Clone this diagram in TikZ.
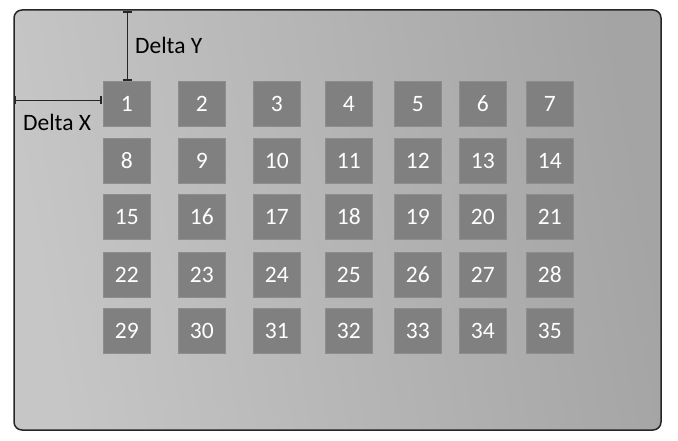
\documentclass[tikz,border=0pt]{standalone}
\usepackage{fontspec}
\setmainfont{Carlito}
\begin{document}
\begin{tikzpicture}[x=1pt,y=-1pt,
  cell/.style={fill=boxgray,draw=boxgray!90!white,line width=0.6pt,minimum width=47pt,minimum height=45pt,inner sep=0pt,
    text height=15pt,text depth=0pt,
    text=white,font=\fontsize{23.5}{25}\selectfont,anchor=north west},
  lbl/.style={font=\fontsize{23.5}{25}\selectfont,text=black,inner sep=0pt,anchor=west},
  dim/.style={line width=1.3pt,draw=black!85}]
\definecolor{boxgray}{RGB}{128,128,128}
\definecolor{bgA}{RGB}{198,198,198}
\definecolor{bgB}{RGB}{164,164,164}
\useasboundingbox (0,0) rectangle (678,441);
\shade[rounded corners=8pt,left color=bgA,right color=bgB,shading angle=100] (14,10) rectangle (661,430);
\draw[rounded corners=8pt,line width=1.5pt,black!85] (14,10) rectangle (661,430);
\foreach \c/\x in {0/103,1/178,2/253,3/325,4/394,5/459,6/526}{
  \foreach \r/\y in {0/81,1/138,2/194,3/252,4/308}{
    \pgfmathtruncatemacro{\n}{\r*7+\c+1}
    \node[cell] (b\n) at (\x,\y) {\n};
  }
}
% Delta Y
\coordinate (ytop) at (127.5,12);
\coordinate (ybot) at (127.5,80);
\draw[dim] (ytop) -- (ybot);
\draw[dim] ([xshift=-4.5pt]ytop) -- ([xshift=4.5pt]ytop);
\draw[dim] ([xshift=-4.5pt]ybot) -- ([xshift=4.5pt]ybot);
\node[lbl] (dy) at (135,45) {Delta Y};
% Delta X
\coordinate (xl) at (15,100.5);
\coordinate (xr) at (101,100.5);
\draw[dim] (xl) -- (xr);
\draw[dim] ([yshift=-4pt]xl) -- ([yshift=4pt]xl);
\draw[dim] ([yshift=-4pt]xr) -- ([yshift=4pt]xr);
\node[lbl] (dx) at (23,122) {Delta X};
\end{tikzpicture}
\end{document}
